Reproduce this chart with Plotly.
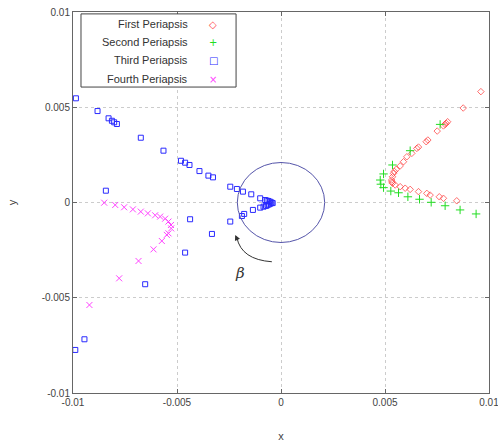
import plotly.graph_objects as go

# ---------------- data ----------------
first_x = [0.00961, 0.00876, 0.00801, 0.00794, 0.00789, 0.00781, 0.00751, 0.00706, 0.00698,
           0.00661, 0.00653, 0.00629, 0.00605, 0.00589, 0.00573, 0.00554, 0.00545, 0.00541,
           0.00536, 0.00532, 0.00533, 0.00536, 0.00549, 0.00573, 0.00597, 0.00621, 0.00661,
           0.00701, 0.00717, 0.00761, 0.00781, 0.00845]
first_y = [0.00582, 0.00496, 0.00424, 0.00416, 0.00410, 0.00402, 0.00375, 0.00328, 0.00319,
           0.00291, 0.00284, 0.00258, 0.00240, 0.00214, 0.00192, 0.00174, 0.00163, 0.00153,
           0.00135, 0.00118, 0.00108, 0.00101, 0.00092, 0.00083, 0.00075, 0.00069, 0.00057,
           0.00048, 0.00039, 0.00030, 0.00022, 0.00009]

second_x = [0.00765, 0.00621, 0.00536, 0.00493, 0.00477, 0.00480, 0.00493, 0.00528, 0.00565,
            0.00610, 0.00666, 0.00722, 0.00789, 0.00861, 0.00938]
second_y = [0.00410, 0.00272, 0.00197, 0.00150, 0.00118, 0.00096, 0.00078, 0.00060, 0.00051,
            0.00030, 0.00017, 0.00001, -0.00017, -0.00039, -0.00060]

third_x = [-0.00986, -0.00882, -0.00829, -0.00813, -0.00802, -0.00789, -0.00674, -0.00565,
           -0.00481, -0.00461, -0.00440, -0.00392, -0.00842, -0.00349, -0.00327, -0.00244,
           -0.00212, -0.00183, -0.00143, -0.00100, -0.00076, -0.00068, -0.00060, -0.00052,
           -0.00045, -0.00040, -0.00050, -0.00058, -0.00065, -0.00072, -0.00084, -0.00100,
           -0.00135, -0.00177, -0.00188, -0.00244, -0.00332, -0.00437, -0.00461, -0.00653,
           -0.00945, -0.00989]
third_y = [0.00547, 0.00480, 0.00442, 0.00429, 0.00421, 0.00412, 0.00340, 0.00272,
           0.00219, 0.00209, 0.00197, 0.00165, 0.00062, 0.00141, 0.00132, 0.00083,
           0.00071, 0.00057, 0.00043, 0.00022, 0.00013, 0.00010, 0.00008, 0.00004,
           0.00000, -0.00003, -0.00006, -0.00010, -0.00014, -0.00018, -0.00022, -0.00027,
           -0.00039, -0.00060, -0.00071, -0.00100, -0.00165, -0.00088, -0.00263, -0.00429,
           -0.00718, -0.00774]

fourth_x = [-0.00850, -0.00797, -0.00754, -0.00712, -0.00674, -0.00640, -0.00605, -0.00581,
            -0.00557, -0.00541, -0.00529, -0.00528, -0.00541, -0.00549, -0.00573, -0.00613,
            -0.00685, -0.00778, -0.00921]
fourth_y = [-0.00001, -0.00013, -0.00025, -0.00036, -0.00048, -0.00057, -0.00067, -0.00074,
            -0.00085, -0.00100, -0.00118, -0.00136, -0.00162, -0.00170, -0.00202, -0.00246,
            -0.00307, -0.00398, -0.00538]

tick_vals = [-0.01, -0.005, 0, 0.005, 0.01]
tick_text = ["-0.01", "-0.005", "0", "0.005", "0.01"]

series_names = ["First Periapsis", "Second Periapsis", "Third Periapsis", "Fourth Periapsis"]
series_colors = ["rgba(255,50,50,0.7)", "#22dd22", "#2a2aff", "#ff44ff"]
series_symbols = ["diamond-open", "cross-thin-open", "square-open", "x-thin-open"]
series_sizes = [5, 6, 5, 6]
legend_glyphs = ["◇", "+", "□", "×"]

circle_r = 0.0021

# ---------------- figure ----------------
fig = go.Figure()
data = [(first_x, first_y), (second_x, second_y), (third_x, third_y), (fourth_x, fourth_y)]
for (xs, ys), name, col, sym, sz in zip(data, series_names, series_colors, series_symbols, series_sizes):
    fig.add_trace(go.Scatter(
        x=xs, y=ys, mode="markers", name=name, showlegend=False,
        marker=dict(symbol=sym, size=sz, color=col, line=dict(width=1, color=col)),
    ))

# circle
fig.add_shape(type="circle", xref="x", yref="y",
              x0=-circle_r, x1=circle_r, y0=-circle_r, y1=circle_r,
              line=dict(color="rgb(85,85,170)", width=1))

# curved arrow
fig.add_shape(type="path", xref="x", yref="y",
              path="M -0.00044,-0.00311 Q -0.0019,-0.0030 -0.00212,-0.00185",
              line=dict(color="#333", width=1))
fig.add_annotation(x=-0.00220, y=-0.00170, ax=-0.00208, ay=-0.00200,
                   xref="x", yref="y", axref="x", ayref="y", text="",
                   showarrow=True, arrowhead=2, arrowsize=1.1, arrowwidth=1, arrowcolor="#333")
fig.add_annotation(x=-0.00195, y=-0.00370, xref="x", yref="y", text="<i>β</i>",
                   showarrow=False, font=dict(size=15, color="#333", family="DejaVu Serif"))

# custom legend (text right-aligned, symbol on the right)
fig.add_shape(type="rect", xref="paper", yref="paper", x0=0.0192, x1=0.392, y0=0.803, y1=0.995,
              line=dict(color="#444", width=1), fillcolor="white", layer="above")
rows_y = [0.9685, 0.9205, 0.873, 0.824]
glyph_colors = ["rgb(255,70,70)", "#22dd22", "#2a2aff", "#ff44ff"]
for name, gl, gc, yy in zip(series_names, legend_glyphs, glyph_colors, rows_y):
    fig.add_annotation(x=0.282, y=yy, xref="paper", yref="paper", text=name, xanchor="right",
                       yanchor="middle", showarrow=False,
                       font=dict(size=11, color="#333", family="Liberation Sans"))
    fig.add_annotation(x=0.337, y=yy, xref="paper", yref="paper", text=gl, xanchor="center",
                       yanchor="middle", showarrow=False,
                       font=dict(size=10, color=gc, family="DejaVu Sans"))

axis_common = dict(
    range=[-0.01, 0.01], tickvals=tick_vals, ticktext=tick_text,
    showgrid=True, gridcolor="#cccccc", griddash="dot", gridwidth=1,
    zeroline=False, showline=True, linecolor="#666", linewidth=1, mirror="ticks",
    ticks="inside", ticklen=4, tickcolor="#666", automargin=False,
    ticklabeloverflow="allow",
    tickfont=dict(size=10, color="#444", family="Liberation Sans"),
)
fig.update_xaxes(**axis_common, title=dict(text="x", font=dict(size=11, color="#444"), standoff=25))
fig.update_yaxes(**axis_common, title=dict(text="y", font=dict(size=11, color="#444"), standoff=22))

fig.update_layout(
    width=498, height=447,
    margin=dict(l=73, r=9, t=12, b=54),
    plot_bgcolor="white", paper_bgcolor="white",
    font=dict(family="Liberation Sans"),
)

# remove the browser's default 8px body margin so the figure fills the window
fig.write_html("out.html", config={"displayModeBar": False},
               post_script="document.body.style.margin='0';document.body.style.overflow='hidden';")
